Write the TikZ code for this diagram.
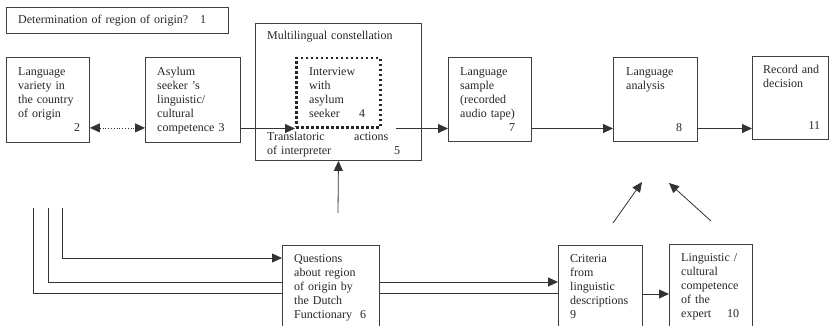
\documentclass[tikz,border=0pt]{standalone}
\usepackage{fontspec}
\setmainfont{Liberation Serif}
\usetikzlibrary{arrows.meta,backgrounds}
\begin{document}
\begin{tikzpicture}[x=1pt,y=-1pt,>={Triangle[length=10pt,width=9pt]},
  font=\fontsize{12}{14}\selectfont,
  box/.style={draw=black!75,line width=0.9pt,inner sep=0pt,anchor=north west},
  txt/.style={anchor=base west,align=left,inner sep=0pt,text=black!85,
    text width=80pt},
  link/.style={draw=black!80,line width=0.8pt}]
\useasboundingbox (0,0) rectangle (829,326);
\clip (0,0) rectangle (829,326);
% boxes: name/left/top/width/height (image coordinates)
\foreach \n/\x/\y/\w/\h in {q1/6/7/222/26,b2/6/57/83/85,b3/145/57/95/85,
  b5/255/23/166/137,b7/448/57/83/84,b8/613/57/84/84,b11/752/56/76/83,
  b9/558/245/84/100,b10/669/244/83/100}{
  \node[box,minimum width=\w pt,minimum height=\h pt] (\n) at (\x,\y) {};
}
\node[box,fill=white,minimum width=97pt,minimum height=100pt] (b6) at (282,245) {};
\node[box,draw=black!85,line width=2.5pt,dash pattern=on 2.5pt off 2.5pt,
  minimum width=84pt,minimum height=69pt] (b4) at (295,57) {};
% texts
\node[txt,text width=200pt] at ([shift={(12,17)}]q1.north west)
  {Determination of region of origin?\quad 1};
\node[txt,text width=150pt] at ([shift={(12,17)}]b5.north west)
  {Multilingual constellation};
\node[txt,text width=62pt] at ([shift={(12,19)}]b2.north west)
  {Language\\variety in\\the country\\of origin\\\mbox{}\hfill 2};
\node[txt] at ([shift={(12,19)}]b3.north west)
  {Asylum\\seeker 's\\linguistic/\\cultural\\competence 3};
\node[txt,text width=62pt] at ([shift={(14,19)}]b4.north west)
  {Interview\\with\\asylum\\seeker\hspace{1.6em}4};
\node[txt,text width=133pt] at ([shift={(12,117)}]b5.north west)
  {Translatoric\hfill actions\hspace{12pt}\mbox{}\\of interpreter\hfill 5};
\node[txt,text width=55pt] at ([shift={(12,19)}]b7.north west)
  {Language\\sample\\(recorded\\audio tape)\\\mbox{}\hfill 7};
\node[txt,text width=56pt] at ([shift={(13,19)}]b8.north west)
  {Language\\analysis\\[27.6pt]\mbox{}\hfill 8};
\node[txt,text width=57pt] at ([shift={(11,18)}]b11.north west)
  {Record and\\decision\\[28pt]\mbox{}\hfill 11};
\node[txt,text width=85pt] at ([shift={(12,17)}]b6.north west)
  {Questions\\about region\\of origin by\\the Dutch\\Functionary\ \ 6};
\node[txt,text width=72pt] at ([shift={(12,17)}]b9.north west)
  {Criteria\\from\\linguistic\\descriptions\\9};
\node[txt,text width=58pt] at ([shift={(12,17)}]b10.north west)
  {Linguistic /\\cultural\\competence\\of the\\expert\hfill 10};
% free ends
\coordinate (f1) at (62,208);
\coordinate (f2) at (48,208);
\coordinate (f3) at (33,208);
\coordinate (q6up) at (338,213);
\coordinate (c9) at (613,223);
\coordinate (c8a) at (642,182);
\coordinate (c10) at (711,221);
\coordinate (c8b) at (669,183);
% connectors
\begin{scope}[on background layer]
\draw[link,<->,dotted] ([yshift=15pt]b2.south east) -- ([yshift=15pt]b3.south west);
\draw[link,->] (b3.east |- b4.south west) -- (b4.south west);
\draw[link,->] ([xshift=14pt]b4.south east) -- (b7.west |- b4.south east);
\draw[link,->] (b7.east |- b4.south east) -- (b8.west |- b4.south east);
\draw[link,->] (b8.east |- b4.south east) -- (b11.west |- b4.south east);
\draw[link,->] (q6up) -- (b5.south);
\draw[link,->] (f1) |- ([yshift=-13pt]b6.north west);
\draw[link,->] (f2) |- ([yshift=-37pt]b9.north west);
\draw[link] (f3) |- ([yshift=-48pt]b9.north west);
\draw[link,->] ([yshift=-49pt]b9.north east) -- ([yshift=-50pt]b10.north west);
\draw[link,->] (c9) -- (c8a);
\draw[link,->] (c10) -- (c8b);
\end{scope}
\end{tikzpicture}
\end{document}
